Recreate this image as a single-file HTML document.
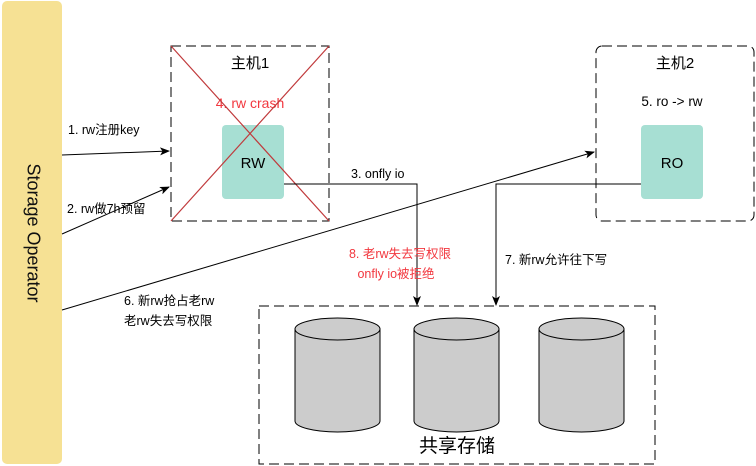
<!DOCTYPE html>
<html><head><meta charset="utf-8"><style>
html,body{margin:0;padding:0;background:#fff;}
svg{display:block;font-family:"Liberation Sans","Noto Sans CJK SC",sans-serif;}
</style></head><body>
<svg width="756" height="466" viewBox="0 0 756 466" xmlns="http://www.w3.org/2000/svg">
<defs><marker id="a" markerWidth="10" markerHeight="8" refX="9" refY="4" orient="auto" markerUnits="userSpaceOnUse"><path d="M0,0 L10,4 L0,8 L2.5,4 Z" fill="#000"/></marker></defs>
<rect x="2" y="1" width="60" height="463" rx="5" fill="#f6e194"/>
<text transform="translate(32,233) rotate(90)" font-size="18" text-anchor="middle" dominant-baseline="middle" fill="#111">Storage Operator</text>
<rect x="171" y="46" width="158" height="175" fill="none" stroke="#000" stroke-dasharray="10,5" stroke-width="1"/>
<rect x="596" y="46" width="158" height="175" rx="6" fill="none" stroke="#000" stroke-dasharray="10,5" stroke-width="1"/>
<rect x="222" y="125" width="62" height="74" rx="4" fill="#a7dfd3"/>
<rect x="641" y="125" width="62" height="74" rx="4" fill="#a7dfd3"/>
<text x="250" y="68" font-size="15" text-anchor="middle">主机1</text>
<text x="675" y="68" font-size="15" text-anchor="middle">主机2</text>
<text x="250" y="108" font-size="14" text-anchor="middle" fill="#f2383f">4. rw crash</text>
<text x="672" y="106" font-size="13.5" text-anchor="middle">5. ro -&gt; rw</text>
<text x="253" y="168" font-size="15" text-anchor="middle">RW</text>
<text x="672" y="168" font-size="15" text-anchor="middle">RO</text>
<line x1="171" y1="46" x2="329" y2="221" stroke="#c0393b" stroke-width="1.2"/>
<line x1="329" y1="46" x2="171" y2="221" stroke="#c0393b" stroke-width="1.2"/>
<rect x="259" y="306" width="396" height="158" fill="none" stroke="#000" stroke-dasharray="10,5"/>
<g fill="#ccc" stroke="#000" stroke-width="1">
<path d="M295,329 L295,421 A42.5,11 0 0 0 380,421 L380,329"/><ellipse cx="337.5" cy="329" rx="42.5" ry="11"/>
<path d="M414,329 L414,421 A42.5,11 0 0 0 499,421 L499,329"/><ellipse cx="456.5" cy="329" rx="42.5" ry="11"/>
<path d="M539,329 L539,421 A42.5,11 0 0 0 624,421 L624,329"/><ellipse cx="581.5" cy="329" rx="42.5" ry="11"/>
</g>
<text x="457" y="452" font-size="19" text-anchor="middle">共享存储</text>
<g stroke="#000" fill="none" stroke-width="1">
<line x1="62" y1="155" x2="169" y2="151" marker-end="url(#a)"/>
<line x1="62" y1="234" x2="169" y2="187" marker-end="url(#a)"/>
<polyline points="284,184 417,184 417,305" marker-end="url(#a)"/>
<polyline points="641,184 496,184 496,305" marker-end="url(#a)"/>
<line x1="62" y1="310" x2="594" y2="152" marker-end="url(#a)"/>
</g>
<g font-size="12.5">
<text x="68" y="134">1. rw注册key</text>
<text x="67" y="213">2. rw做7h预留</text>
<text x="351" y="178">3. onfly io</text>
<text x="505" y="264">7. 新rw允许往下写</text>
<text x="124" y="305">6. 新rw抢占老rw</text>
<text x="124" y="325">老rw失去写权限</text>
<text x="400" y="258" text-anchor="middle" fill="#f2383f">8. 老rw失去写权限</text>
<text x="396" y="278" text-anchor="middle" fill="#f2383f">onfly io被拒绝</text>
</g>
</svg>
</body></html>
